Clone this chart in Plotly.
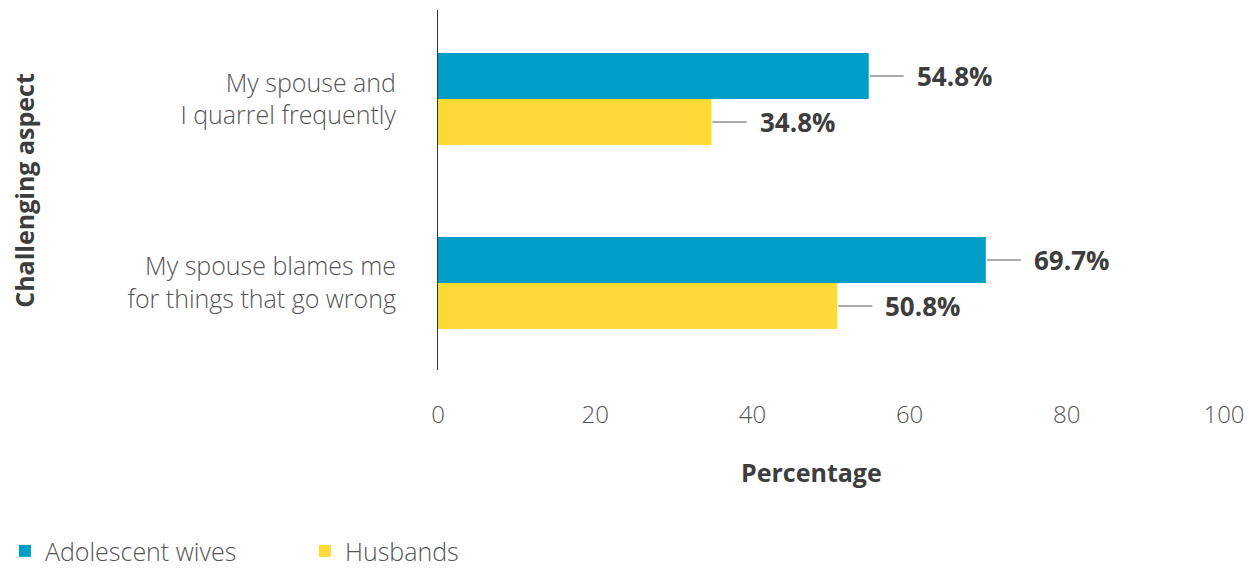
import plotly.graph_objects as go

categories = ["My spouse and<br>I quarrel frequently", "My spouse blames me<br>for things that go wrong"]
wives = [54.8, 69.7]
husbands = [34.8, 50.8]
series_names = ["Adolescent wives", "Husbands"]
colors = ["#009EC6", "#FDDA36"]
x_ticks = [0, 20, 40, 60, 80, 100]

FAM = "'Open Sans', Roboto, 'Liberation Sans', sans-serif"
LIGHT = dict(family=FAM, size=25, color="#555555", weight=300)
TICK = dict(family=FAM, size=24, color="#555555", weight=300)
LEG = dict(family=FAM, size=25, color="#555555", weight=300)
BOLD = dict(family=FAM, size=25, color="#3d3d3d", weight=700)
VAL = dict(family=FAM, size=26, color="#3d3d3d", weight=700)

fig = go.Figure()
for name, vals, col in zip(series_names, [wives, husbands], colors):
    fig.add_trace(go.Bar(y=categories, x=vals, name=name, orientation="h",
                         marker=dict(color=col, line=dict(width=0))))

annotations = []
shapes = []
for vals, shift in [(wives, 23), (husbands, -23)]:
    for cat, v in zip(categories, vals):
        annotations.append(dict(x=v, y=cat, xref="x", yref="y", text=f"<b>{v:.1f}%</b>",
                                showarrow=False, xanchor="left", yanchor="middle",
                                xshift=46, yshift=shift, font=VAL))
        shapes.append(dict(type="line", xref="x", yref="y", xsizemode="pixel", ysizemode="pixel",
                           xanchor=v, yanchor=cat, x0=1, x1=35, y0=shift, y1=shift,
                           line=dict(color="#555555", width=1)))

annotations.append(dict(x=0.4746, y=-0.284, xref="paper", yref="paper", text="<b>Percentage</b>",
                        showarrow=False, xanchor="center", yanchor="middle", font=BOLD))
annotations.append(dict(x=-0.527, y=0.5, xref="paper", yref="paper", text="<b>Challenging aspect</b>",
                        showarrow=False, xanchor="center", yanchor="middle", textangle=-90, font=BOLD))

fig.update_layout(
    width=1249, height=570,
    margin=dict(l=438, r=25, t=10, b=200, autoexpand=False),
    paper_bgcolor="white", plot_bgcolor="white",
    barmode="group", bargap=0.5, bargroupgap=0,
    showlegend=True,
    legend=dict(orientation="h", x=-0.551, xanchor="left", y=-0.503, yanchor="middle",
                font=LEG, itemwidth=30, entrywidth=255, traceorder="normal",
                bgcolor="rgba(0,0,0,0)"),
    xaxis=dict(range=[0, 100], tickvals=x_ticks, showgrid=False, zeroline=False, showline=False,
               tickfont=TICK, ticklabelstandoff=28, automargin=False),
    yaxis=dict(showgrid=False, zeroline=False, automargin=False,
               showline=True, linecolor="#333333", linewidth=1, tickfont=LIGHT,
               ticklabelstandoff=36),
    annotations=annotations, shapes=shapes,
)
fig.update_yaxes(autorange=False, range=[1.473, -0.484])
fig.write_html("out.html", config={"displayModeBar": False},
               post_script="document.body.style.margin='0';document.body.style.overflow='hidden';")
